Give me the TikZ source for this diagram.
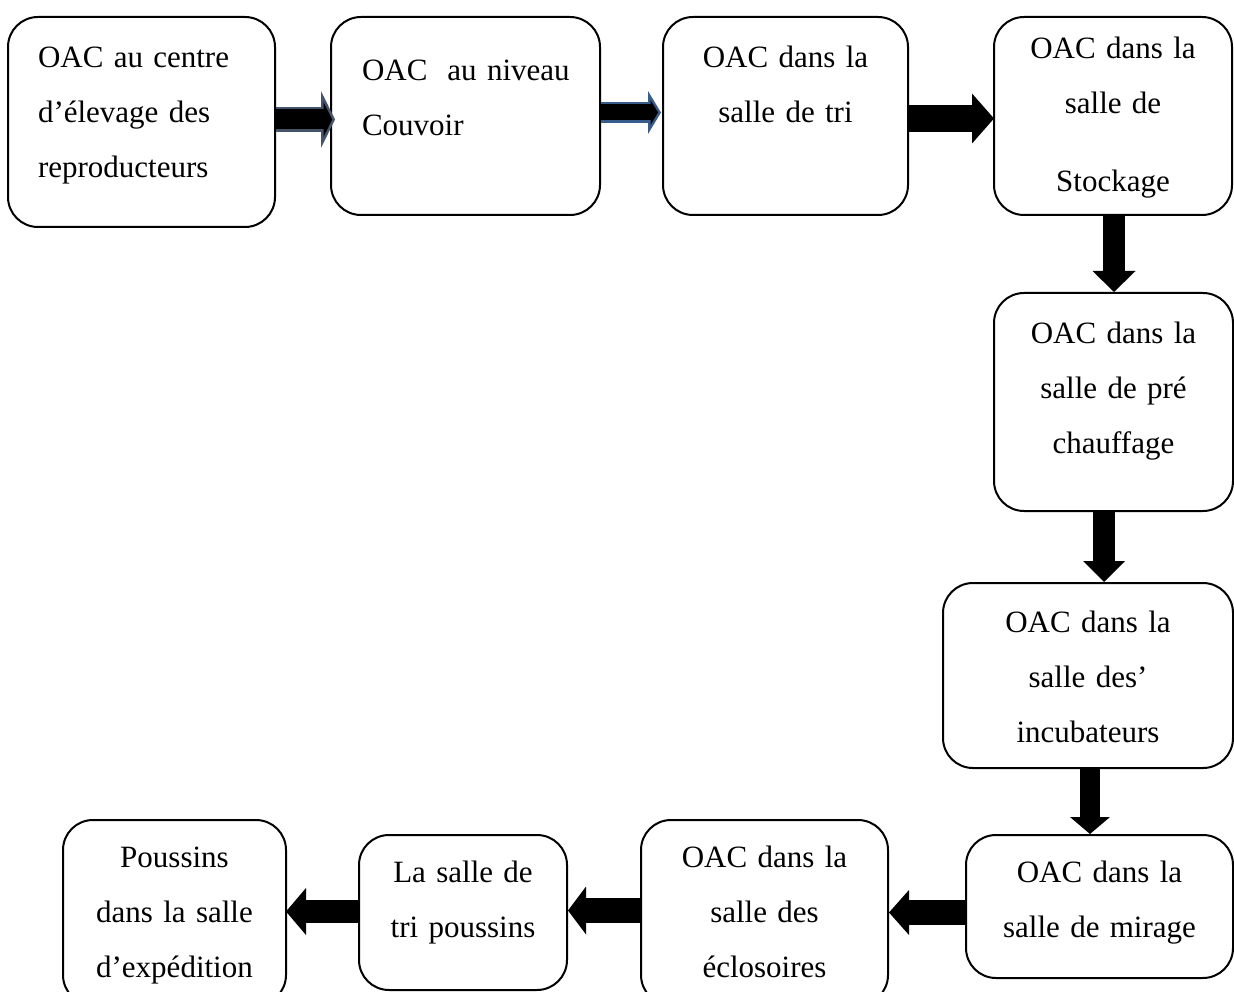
\documentclass[tikz,border=0pt]{standalone}
\usepackage{fontspec}
\setmainfont{Liberation Serif}
\usepackage{tikz}
\usetikzlibrary{arrows.meta}

\definecolor{slate}{HTML}{44546A}
\definecolor{steel}{HTML}{385D8A}

\tikzset{
  box/.style={draw, line width=2pt, rounded corners=30pt, inner xsep=10pt,
    inner ysep=0pt, align=center, font=\fontsize{31}{55}\selectfont},
  fat/.style n args={3}{line width=#1,
    -{Triangle[length=#2, width=#3, line width=0pt]}}
}

\begin{document}
\begin{tikzpicture}[x=1pt, y=-1pt]
      \useasboundingbox (0,0) rectangle (1234,992);

      % top row
      \node[box, align=left, inner xsep=30pt, text width=207pt,
            minimum width=267pt, minimum height=210pt, text depth=130pt]
            (b1) at (141.5,122) {OAC au centre\\d’élevage des\\reproducteurs};
      \node[box, align=left, inner xsep=31pt, text width=207pt,
            minimum width=269pt, minimum height=198pt, text depth=92pt]
            (b2) at (465.5,116) {\mbox{OAC\hspace{20pt}au niveau}\\Couvoir};
      \node[box, text width=225pt, minimum width=245pt, minimum height=198pt,
            text depth=118pt]
            (b3) at (785.5,116) {OAC dans la\\salle de tri};
      \node[box, text width=218pt, minimum width=238pt, minimum height=198pt,
            text depth=136pt]
            (b4) at (1113,116) {OAC dans la\\salle de\\[23pt]Stockage};

      % right column
      \node[box, text width=219pt, minimum width=239pt, minimum height=218pt,
            text depth=138pt]
            (b5) at (1113.5,402) {OAC dans la\\salle de pré\\chauffage};
      \node[box, text width=270pt, minimum width=290pt, minimum height=185pt,
            text depth=107pt]
            (b6) at (1088,675.5) {OAC dans la\\salle des’\\incubateurs};

      % bottom row
      \node[box, text width=247pt, minimum width=267pt, minimum height=143pt,
            text depth=69pt]
            (b7) at (1099.5,906.5) {OAC dans la\\salle de mirage};
      \node[box, text width=227pt, minimum width=247pt, minimum height=185pt,
            text depth=111pt]
            (b8) at (764.5,912.5) {OAC dans la\\salle des\\éclosoires};
      \node[box, text width=188pt, minimum width=208pt, minimum height=155pt,
            text depth=81pt]
            (b9) at (463,912.5) {La salle de\\tri poussins};
      \node[box, text width=203pt, minimum width=223pt, minimum height=185pt,
            text depth=111pt]
            (b10) at (174.5,912.5) {Poussins\\dans la salle\\d’expédition};

      % outlined arrows
      \draw[slate, fat={25pt}{14pt}{57pt}]
            ([yshift=2.5pt]b1.east) -- ([xshift=5pt,yshift=-3.5pt]b2.west);
      \draw[black, fat={20pt}{8.7pt}{35pt}, shorten >=2.8pt]
            ([yshift=2.5pt]b1.east) -- ([xshift=5pt,yshift=-3.5pt]b2.west);
      \draw[steel, fat={21pt}{13pt}{43pt}]
            ([yshift=3.5pt]b2.east) -- ([xshift=-1pt,yshift=3.5pt]b3.west);
      \draw[black, fat={16pt}{7.6pt}{25pt}, shorten >=2.9pt]
            ([yshift=3.5pt]b2.east) -- ([xshift=-1pt,yshift=3.5pt]b3.west);

      % plain arrows
      \draw[fat={27pt}{22pt}{50pt}]
            ([yshift=-2.5pt]b3.east) -- ([xshift=1pt,yshift=-2.5pt]b4.west);
      \draw[fat={22pt}{21pt}{43pt}]
            ([xshift=1pt]b4.south) -- ([xshift=.5pt]b5.north);
      \draw[fat={22pt}{21pt}{42pt}]
            ([xshift=-9.5pt]b5.south) -- ([xshift=16pt]b6.north);
      \draw[fat={20pt}{17pt}{40pt}]
            ([xshift=2pt]b6.south) -- ([xshift=-9.5pt]b7.north);
      \draw[fat={25pt}{20pt}{45pt}]
            ([yshift=-6pt]b7.west) -- (b8.east);
      \draw[fat={25pt}{18pt}{48pt}]
            ([yshift=2pt]b8.west) -- ([yshift=2pt]b9.east);
      \draw[fat={23pt}{20pt}{47pt}]
            ([yshift=1pt]b9.west) -- ([xshift=-1pt,yshift=1pt]b10.east);
\end{tikzpicture}
\end{document}
